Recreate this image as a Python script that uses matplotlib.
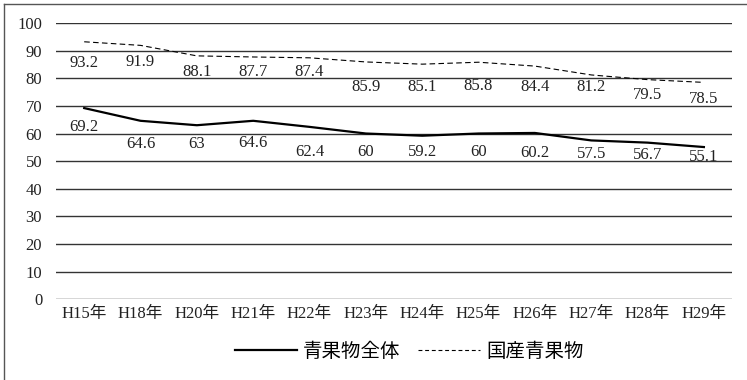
import matplotlib
matplotlib.use("Agg")
import matplotlib.pyplot as plt
from matplotlib.lines import Line2D

plt.rcParams['font.family'] = ['Liberation Serif', 'Noto Sans CJK JP']

# data
years = ["H15年", "H18年", "H20年", "H21年", "H22年", "H23年",
         "H24年", "H25年", "H26年", "H27年", "H28年", "H29年"]
total = [69.2, 64.6, 63, 64.6, 62.4, 60, 59.2, 60, 60.2, 57.5, 56.7, 55.1]
domestic = [93.2, 91.9, 88.1, 87.7, 87.4, 85.9, 85.1, 85.8, 84.4, 81.2, 79.5, 78.5]
total_name = "青果物全体"
domestic_name = "国産青果物"

# label offsets below each point (pixels), as placed in the original
total_dy = [19, 23, 19, 22, 25, 18, 16, 18, 20, 14, 12, 10]
domestic_dy = [21, 17, 16, 15, 14, 25, 23, 24, 21, 12, 15, 17]

fig = plt.figure(figsize=(7.47, 3.8), dpi=100)
ax = fig.add_axes([0.075, 0.2124, 0.905, 0.7271])

x = range(len(years))
l1, = ax.plot(x, total, color='black', lw=1.6)
l2, = ax.plot(x, domestic, color='black', lw=0.8, dashes=(5, 3))

for i in x:
    ax.annotate(str(total[i]), (i, total[i]), xytext=(0, -total_dy[i]),
                textcoords='offset pixels', ha='center', va='center',
                fontsize=12, color='#222222')
    ax.annotate(str(domestic[i]), (i, domestic[i]), xytext=(0, -domestic_dy[i]),
                textcoords='offset pixels', ha='center', va='center',
                fontsize=12, color='#222222')

ax.set_xlim(-0.5, len(years) - 0.5)
ax.set_ylim(0, 100)
ax.set_yticks(range(0, 101, 10))
ax.set_xticks(list(x))
ax.set_xticklabels(years)
ax.tick_params(length=0, labelsize=12, colors='#222222')
ax.tick_params(axis='y', pad=10)
ax.tick_params(axis='x', pad=5)
ax.grid(axis='y', color='#333333', lw=1)
for s in ax.spines.values():
    s.set_visible(False)

leg = fig.legend([l1, l2], [total_name, domestic_name], loc='center',
                 bbox_to_anchor=(0.548, 0.074), ncol=2, frameon=False,
                 fontsize=14, handlelength=3.2, columnspacing=0.9, handletextpad=0.3)
leg.get_lines()[1].set_dashes((3.5, 2.5))

# outer frame (left and top edges visible in the original)
fig.add_artist(Line2D([4 / 747, 4 / 747], [0, 1 - 4 / 380], transform=fig.transFigure,
                      color='#555555', lw=1))
fig.add_artist(Line2D([4 / 747, 1], [1 - 4 / 380, 1 - 4 / 380], transform=fig.transFigure,
                      color='#555555', lw=1))

fig.savefig("out.png", dpi=100)
